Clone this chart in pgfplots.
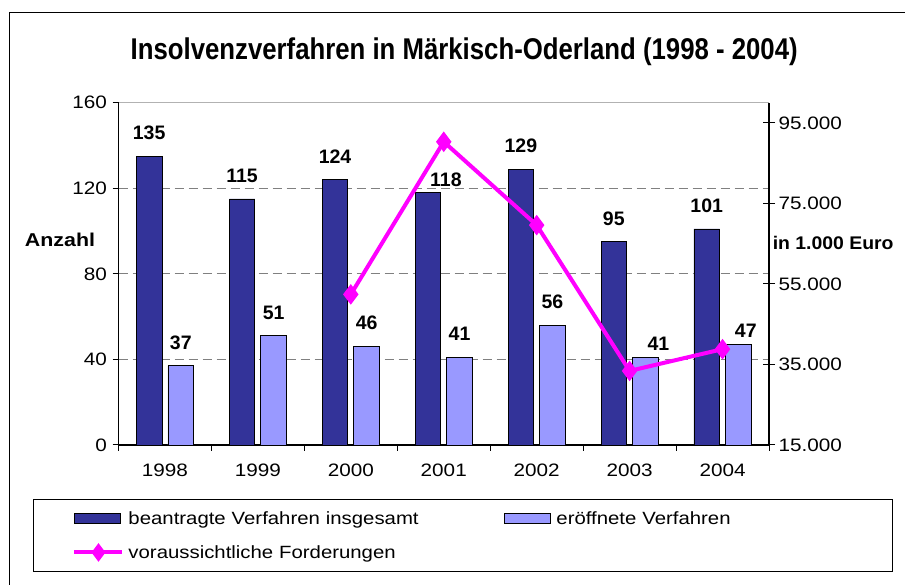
\documentclass[border=0pt]{standalone}
\usepackage{pgfplots}
\pgfplotsset{compat=1.18}
\usepackage{pgfplotstable}
\usepackage{fontspec}
\setmainfont{Liberation Sans}
\newfontfamily\wf{Liberation Sans}[FakeStretch=1.15]
\newfontfamily\wfs{Liberation Sans}[FakeStretch=1.06]
\usepackage{graphicx}
\definecolor{darkbar}{HTML}{333399}
\definecolor{lightbar}{HTML}{9999FF}
\definecolor{magline}{HTML}{FF00FF}
\newlength\titlew

\pgfplotstableread{
x y dx dy
0 135 0 16
1 115 0 16
2 124 0 16
3 118 18 5.7
4 129 0 16
5 95 0 16
6 101 0 16
}\darktab
\pgfplotstableread{
x y dx dy
0 37 0 16
1 51 0 16
2 46 0 16
3 41 0 16
4 56 0 16
5 41 13 6
6 47 7.5 7
}\lighttab
\pgfplotstableread{
x y
2 52400
3 90300
4 69600
5 33400
6 38800
}\linetab

\begin{document}
\begin{tikzpicture}
\useasboundingbox (0pt,0pt) rectangle (905pt,585pt);
\draw[line width=1.3pt] (9.3pt,-20pt) rectangle (940pt,572.3pt);
\node[anchor=base, inner sep=0pt] at (464.2pt,525pt) {\fontsize{30}{36}\selectfont\bfseries\settowidth\titlew{Insolvenzverfahren in Märkisch-Oderland (1998 - 2004)}\pgfmathsetmacro\tscale{667/\titlew}\scalebox{\tscale}[1]{Insolvenzverfahren in Märkisch-Oderland (1998 - 2004)}};

\begin{axis}[
  at={(118.5pt,140pt)}, anchor=south west,
  width=650.5pt, height=342.3pt, scale only axis,
  xmin=-0.5, xmax=6.5, ymin=0, ymax=160,
  axis x line*=bottom, axis y line*=left,
  axis line style={line width=1.3pt, black},
  ytick={0,40,80,120}, extra y ticks={160},
  extra y tick style={grid style={solid, draw=gray!60, line width=1pt}},
  ymajorgrids, grid style={draw=gray, dash pattern=on 9pt off 5pt, line width=1pt},
  xtick={0,...,6}, xticklabels={1998,1999,2000,2001,2002,2003,2004},
  xtick style={draw=none},
  xticklabel style={yshift=-9pt},
  yticklabel style={xshift=-2pt},
  extra x ticks={-0.5,0.5,1.5,2.5,3.5,4.5,5.5,6.5}, extra x tick labels={},
  extra x tick style={xtick style={draw=black, line width=1pt}},
  tick align=outside, major tick length=6pt,
  ytick style={black, line width=1pt},
  ticklabel style={font=\wf\fontsize{18}{20}\selectfont},
  /pgf/number format/assume math mode=true,
  ylabel={Anzahl},
  every axis y label/.style={at={(axis description cs:-0.0899,0.5989)}, anchor=center, font=\wf\fontsize{18.6}{20}\selectfont\bfseries},
  ybar, bar width=25.6pt,
]
\addplot[fill=darkbar, draw=black, line width=0.8pt, bar shift=-15.8pt,
  nodes near coords,
  visualization depends on={\thisrow{dx} \as \dx},
  visualization depends on={\thisrow{dy} \as \dy},
  every node near coord/.append style={anchor=south, inner sep=0pt, xshift=\dx pt, yshift=\dy pt, font=\fontsize{19.5}{22}\selectfont\bfseries, text=black}]
  table[x=x,y=y] {\darktab};
\addplot[fill=lightbar, draw=black, line width=0.8pt, bar shift=15.8pt,
  nodes near coords,
  visualization depends on={\thisrow{dx} \as \dx},
  visualization depends on={\thisrow{dy} \as \dy},
  every node near coord/.append style={anchor=south, inner sep=0pt, xshift=\dx pt, yshift=\dy pt, font=\fontsize{19.5}{22}\selectfont\bfseries, text=black}]
  table[x=x,y=y] {\lighttab};
\end{axis}

\begin{axis}[
  at={(118.5pt,140pt)}, anchor=south west,
  width=650.5pt, height=342.3pt, scale only axis,
  xmin=-0.5, xmax=6.5, ymin=15000, ymax=100000,
  axis x line=none, axis y line*=right,
  axis line style={line width=1.3pt, black},
  scaled y ticks=false,
  ytick={15000,35000,55000,75000,95000},
  yticklabels={15.000,35.000,55.000,75.000,95.000},
  tick align=center, major tick length=12pt,
  ytick style={black, line width=1pt},
  ticklabel style={font=\wf\fontsize{18}{20}\selectfont},
  ylabel={in 1.000 Euro},
  every axis y label/.style={at={(axis description cs:1.0055,0.5892)}, anchor=west, inner xsep=0pt, font=\wfs\fontsize{18.3}{20}\selectfont\bfseries},
  legend columns=2,
  legend cell align=left,
  legend style={at={(axis description cs:-0.13144,-0.15776)}, anchor=north west,
    draw=black, line width=1pt, inner xsep=0pt, inner ysep=2pt,
    font=\wf\fontsize{17.7}{20}\selectfont,
    nodes={text width=333pt, minimum height=34pt, inner xsep=3pt, inner ysep=0pt},
    row sep=0pt, column sep=0pt},
]
\addlegendimage{legend image code/.code={\path (-39pt,0pt) (49pt,0pt); \draw[fill=darkbar, draw=black, line width=0.8pt] (0pt,-5.3pt) rectangle (46pt,5.3pt);}}
\addlegendentry{beantragte Verfahren insgesamt}
\addlegendimage{legend image code/.code={\path (-39pt,0pt) (49pt,0pt); \draw[fill=lightbar, draw=black, line width=0.8pt] (0pt,-5.3pt) rectangle (46pt,5.3pt);}}
\addlegendentry{eröffnete Verfahren}
\addplot[magline, line width=4pt, mark=diamond*, mark size=7pt, mark options={solid, fill=magline},
  legend image code/.code={\path (-39pt,0pt) (49pt,0pt); \draw[magline, line width=4pt, mark=diamond*, mark size=6pt, mark options={solid, fill=magline}, mark repeat=2, mark phase=2] plot coordinates {(0pt,0pt) (24pt,0pt) (48pt,0pt)};}]
  table[x=x,y=y] {\linetab};
\addlegendentry{voraussichtliche Forderungen}
\end{axis}
\end{tikzpicture}
\end{document}
